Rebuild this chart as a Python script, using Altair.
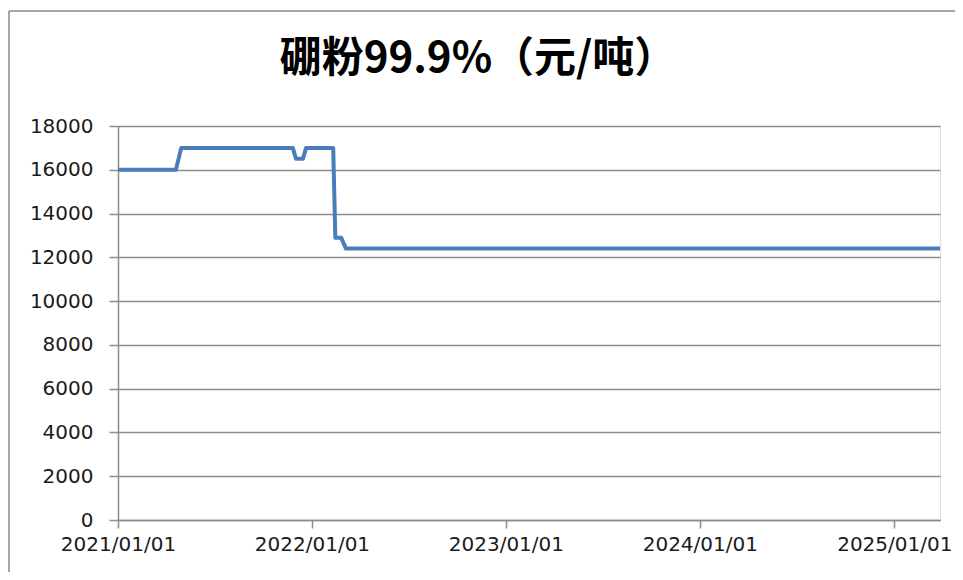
import altair as alt
import pandas as pd

# Data
dates = [
    "2021-01-01", "2021-04-20", "2021-04-30", "2021-11-26", "2021-12-02",
    "2021-12-15", "2021-12-21", "2022-02-10", "2022-02-14", "2022-02-25",
    "2022-03-06", "2025-03-28",
]
prices = [
    16000, 16000, 17000, 17000, 16500,
    16500, 17000, 17000, 12900, 12900,
    12400, 12400,
]
tick_years = [2021, 2022, 2023, 2024, 2025]
y_ticks = list(range(0, 18001, 2000))
title_text = "硼粉99.9%（元/吨）"

df = pd.DataFrame({"date": pd.to_datetime(dates), "price": prices})

W, H = 822, 394
PAD_L, PAD_T = 110, 118

x_enc = alt.X(
    "date:T",
    scale=alt.Scale(
        type="utc",
        domain=[alt.DateTime(year=2021, month=1, date=1, utc=True),
                alt.DateTime(year=2025, month=3, date=28, utc=True)],
    ),
    axis=alt.Axis(
        title=None,
        values=[alt.DateTime(year=y, month=1, date=1, utc=True) for y in tick_years],
        labelExpr="utcFormat(datum.value, '%Y/%m/%d')",
        grid=False,
        domainColor="#8c8c8c",
        domainWidth=1.5,
        tickColor="#8c8c8c",
        tickWidth=1.5,
        tickSize=8,
        labelPadding=6,
        labelFont="DejaVu Sans",
        labelFontSize=20,
        labelColor="#1a1a1a",
        labelFlush=False,
        labelOverlap=False,
    ),
)

y_enc = alt.Y(
    "price:Q",
    scale=alt.Scale(domain=[0, 18000], nice=False),
    axis=alt.Axis(
        title=None,
        values=y_ticks,
        format="d",
        grid=True,
        gridColor="#8c8c8c",
        gridWidth=1.5,
        domainColor="#8c8c8c",
        domainWidth=1.5,
        tickColor="#8c8c8c",
        tickWidth=1.5,
        tickSize=9,
        labelPadding=16,
        labelFont="DejaVu Sans",
        labelFontSize=20,
        labelColor="#1a1a1a",
    ),
)

line = alt.Chart(df).mark_line(
    color="#4a7ebb", strokeWidth=4, strokeJoin="round", strokeCap="butt"
).encode(x=x_enc, y=y_enc)

one = pd.DataFrame({"t": [title_text]})

# outer chart frame: only top and left edges are visible in the reference
frame_top = alt.Chart(one).mark_rule(color="#8a8a8a", strokeWidth=1.5).encode(
    x=alt.value(-109), x2=alt.value(W + 120), y=alt.value(-115)
)
frame_left = alt.Chart(one).mark_rule(color="#8a8a8a", strokeWidth=1.5).encode(
    x=alt.value(-109), y=alt.value(-115), y2=alt.value(H + 120)
)

title = alt.Chart(one).mark_text(
    font="Noto Sans CJK SC",
    fontSize=42,
    fontWeight="bold",
    color="#000000",
    align="center",
    baseline="alphabetic",
).encode(
    text="t:N",
    x=alt.value(360),
    y=alt.value(-54),
)

chart = alt.layer(frame_top, frame_left, line, title).properties(
    width=W,
    height=H,
    padding={"left": PAD_L, "top": PAD_T, "right": 15, "bottom": 52},
    autosize=alt.AutoSizeParams(type="none"),
).configure_view(stroke=None).configure(background="white")

chart.save("out.html", embed_options={"renderer": "svg", "actions": False})
